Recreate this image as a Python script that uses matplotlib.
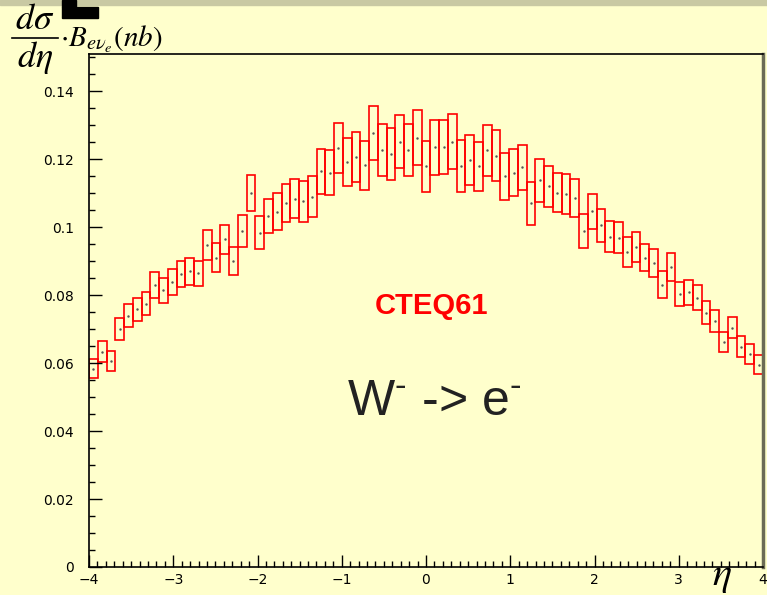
import matplotlib
matplotlib.use('Agg')
import matplotlib.pyplot as plt
import numpy as np
from matplotlib.patches import Rectangle
from matplotlib.lines import Line2D
from matplotlib.ticker import MultipleLocator, FuncFormatter

# cross section per eta bin (77 bins from -4 to 4) and its error
vals = [0.0584, 0.0634, 0.0606, 0.0701, 0.0740, 0.0758, 0.0775, 0.0829, 0.0815, 0.0838,
        0.0863, 0.0871, 0.0864, 0.0948, 0.0911, 0.0964, 0.0901, 0.0989, 0.1101, 0.0984,
        0.1033, 0.1046, 0.1071, 0.1084, 0.1076, 0.1090, 0.1165, 0.1161, 0.1234, 0.1193,
        0.1207, 0.1183, 0.1277, 0.1228, 0.1216, 0.1252, 0.1228, 0.1264, 0.1180, 0.1236,
        0.1237, 0.1252, 0.1181, 0.1199, 0.1180, 0.1226, 0.1211, 0.1150, 0.1161, 0.1177,
        0.1070, 0.1138, 0.1121, 0.1102, 0.1098, 0.1087, 0.0988, 0.1047, 0.1006, 0.0972,
        0.0969, 0.0927, 0.0942, 0.0911, 0.0896, 0.0831, 0.0883, 0.0804, 0.0809, 0.0793,
        0.0748, 0.0724, 0.0662, 0.0704, 0.0649, 0.0627, 0.0595]
errs = [0.0029, 0.0030, 0.0029, 0.0033, 0.0033, 0.0035, 0.0034, 0.0038, 0.0037, 0.0038,
        0.0039, 0.0040, 0.0038, 0.0043, 0.0043, 0.0044, 0.0042, 0.0046, 0.0053, 0.0049,
        0.0051, 0.0054, 0.0056, 0.0057, 0.0060, 0.0061, 0.0066, 0.0065, 0.0073, 0.0071,
        0.0073, 0.0072, 0.0080, 0.0076, 0.0077, 0.0079, 0.0077, 0.0082, 0.0075, 0.0081,
        0.0079, 0.0080, 0.0076, 0.0074, 0.0072, 0.0075, 0.0074, 0.0070, 0.0068, 0.0066,
        0.0062, 0.0064, 0.0060, 0.0058, 0.0058, 0.0056, 0.0050, 0.0052, 0.0049, 0.0046,
        0.0046, 0.0043, 0.0043, 0.0041, 0.0041, 0.0039, 0.0040, 0.0036, 0.0037, 0.0036,
        0.0034, 0.0033, 0.0030, 0.0031, 0.0032, 0.0030, 0.0028]
eta_min, eta_max = -4, 4
xticks = [-4, -3, -2, -1, 0, 1, 2, 3, 4]
yticks = [0, 0.02, 0.04, 0.06, 0.08, 0.1, 0.12, 0.14]

bg = '#ffffcc'
vals = np.array(vals)
errs = np.array(errs)
edges = np.linspace(eta_min, eta_max, len(vals) + 1)
centers = 0.5 * (edges[:-1] + edges[1:])
binw = edges[1] - edges[0]

plt.rcParams['mathtext.rm'] = 'Liberation Sans'
fig = plt.figure(figsize=(7.67, 5.95), dpi=100, facecolor=bg)
ax = fig.add_axes([89/767, 28/595, 674/767, 513/595], facecolor=bg)

# error boxes + central dots
ax.bar(centers, 2*errs, bottom=vals-errs, width=binw, fill=False,
       edgecolor='red', linewidth=1.2)
ax.plot(centers, vals, '.', color='#555555', markersize=1.5)

ax.set_xlim(eta_min, eta_max)
ax.set_ylim(0, 0.151)
ax.set_xticks(xticks)
ax.set_yticks(yticks)
ax.xaxis.set_minor_locator(MultipleLocator(0.1))
ax.yaxis.set_minor_locator(MultipleLocator(0.005))
ax.yaxis.set_major_formatter(FuncFormatter(lambda v, p: '%g' % v))
ax.tick_params(which='both', direction='in', top=False, right=False, width=1,
               labelsize=10)
ax.tick_params(which='major', length=9)
ax.tick_params(which='minor', length=4.5)
ax.tick_params(axis='y', pad=11)
ax.tick_params(axis='x', pad=4)
for s in ['left', 'bottom', 'top']:
    ax.spines[s].set_linewidth(1.2)
ax.spines['right'].set_color('#6b6b55')
ax.spines['right'].set_linewidth(2.5)

# labels inside the pad
ax.text(0.065, 0.0768, 'CTEQ61', color='red', fontsize=21, fontweight='bold',
        family='Liberation Sans', ha='center', va='center')
ax.text(0.10, 0.0446, r'W$^{\text{-}}$ -> e$^{\text{-}}$', color='#222222', fontsize=36,
        family='Liberation Sans', math_fontfamily='custom', ha='center', va='baseline')

# axis titles, ROOT style
fig.text(35/767, 1-19/595, r'$d\sigma$', fontsize=26, math_fontfamily='stix',
         ha='center', va='center')
fig.text(35/767, 1-58/595, r'$d\eta$', fontsize=26, math_fontfamily='stix',
         ha='center', va='center')
fig.add_artist(Line2D([12/767, 58/767], [1-38/595, 1-38/595], color='black', lw=1.2))
fig.text(60/767, 1-46/595, r'$\cdot B_{e\nu_e}(nb)$', fontsize=21,
         math_fontfamily='stix', ha='left', va='baseline')
fig.text(722/767, 1-585/595, r'$\eta$', fontsize=29, math_fontfamily='stix',
         ha='center', va='baseline')

# top strip and the black corner mark
fig.patches.append(Rectangle((0, 1-5/595), 1, 5/595, transform=fig.transFigure,
                             color='#c9c9a3', zorder=0))
fig.patches.append(Rectangle((62/767, 1-7/595), 14/767, 7/595, transform=fig.transFigure,
                             color='black'))
fig.patches.append(Rectangle((62/767, 1-18/595), 36/767, 11/595, transform=fig.transFigure,
                             color='black'))

fig.savefig('out.png', dpi=100, facecolor=bg)
